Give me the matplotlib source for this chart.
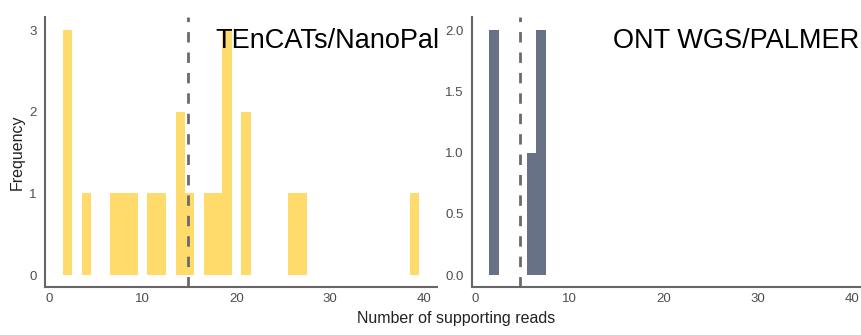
import matplotlib
matplotlib.use("Agg")
import matplotlib.pyplot as plt
import numpy as np

plt.rcParams['font.family'] = ['Liberation Sans', 'DejaVu Sans']

# supporting read counts per insertion
tencats_reads = [2, 2, 2, 4, 7, 8, 9, 11, 12, 14, 14, 15, 17, 18,
                 19, 19, 19, 21, 21, 26, 27, 39]
palmer_reads = [2, 2, 6, 7, 7]

titles = ["TEnCATs/NanoPal", "ONT WGS/PALMER"]
colors = ["#FFDB6B", "#687286"]
xticks = [0, 10, 20, 30, 40]
yticks = [[0, 1, 2, 3], [0.0, 0.5, 1.0, 1.5, 2.0]]
ytick_labels = [["0", "1", "2", "3"], ["0.0", "0.5", "1.0", "1.5", "2.0"]]

grey = "#666666"

fig = plt.figure(figsize=(8.62, 3.35), dpi=100)
ax1 = fig.add_axes([0.0522, 0.143, 0.455, 0.806])
ax2 = fig.add_axes([0.5476, 0.143, 0.4524, 0.806])
axes = [ax1, ax2]
data = [tencats_reads, palmer_reads]
xlims = [(-0.43, 41.4), (-0.32, 41.06)]
ylims = [(-0.147, 3.16), (-0.098, 2.106)]
title_x = [0.434, 0.3615]

bins = np.arange(0.5, 41.5, 1.0)
for i, ax in enumerate(axes):
    vals = np.array(data[i])
    ax.hist(vals, bins=bins, color=colors[i], edgecolor="none")
    # mean number of supporting reads
    ax.axvline(vals.mean(), color="#6a6a6a", linestyle=(0, (3.75, 3.6)),
               linewidth=2)
    ax.set_xlim(*xlims[i])
    ax.set_ylim(*ylims[i])
    ax.set_xticks(xticks)
    ax.set_yticks(yticks[i])
    ax.set_yticklabels(ytick_labels[i])
    ax.tick_params(length=0, labelsize=9.5, colors="#4d4d4d")
    ax.tick_params(axis="y", pad=6)
    ax.tick_params(axis="x", pad=4.5)
    for side in ["top", "right"]:
        ax.spines[side].set_visible(False)
    for side in ["left", "bottom"]:
        ax.spines[side].set_color(grey)
        ax.spines[side].set_linewidth(1.5)
    ax.text(title_x[i], 0.885, titles[i], transform=ax.transAxes,
            fontsize=19.5, color="black", ha="left", va="baseline")

fig.text(0.529, 0.036, "Number of supporting reads", ha="center",
         fontsize=11.5, color="#222222")
fig.text(0.02, 0.546, "Frequency", rotation=90, va="center", ha="center",
         fontsize=11.5, color="#222222")

fig.savefig("out.png", dpi=100)
